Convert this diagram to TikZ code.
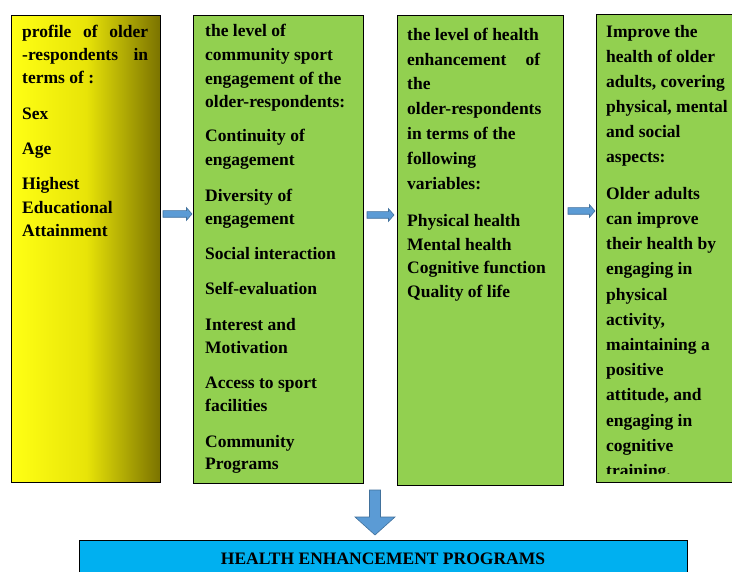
\documentclass[tikz,border=0pt]{standalone}
\usepackage{fontspec}
\setmainfont{Liberation Serif}
\definecolor{boxgreen}{HTML}{92D050}
\definecolor{boxblue}{HTML}{00B0F0}
\definecolor{arrowfill}{HTML}{5B9BD5}
\definecolor{arrowline}{HTML}{41719C}
\definecolor{yelL}{RGB}{255,255,20}
\definecolor{yelM}{RGB}{232,228,8}
\definecolor{yelR}{RGB}{122,114,0}
\begin{document}
\begin{tikzpicture}[x=1pt,y=-1pt,
  txt/.style={font=\fontsize{17.5}{21}\selectfont\bfseries, inner sep=0pt, anchor=base west, text=black},
  box/.style={draw=black, line width=1.3pt, inner sep=0pt, anchor=north west},
  greenbox/.style={box, fill=boxgreen},
  blockarr/.style={draw=arrowline, fill=arrowfill, line width=0.6pt, line join=miter}]
\clip (0,0) rectangle (732,572);
\fill[white] (0,0) rectangle (732,572);
% boxes
\node[box, left color=yelL, right color=yelR, middle color=yelM, minimum width=149pt, minimum height=467pt] (b1) at (11,15) {};
\node[greenbox, minimum width=170pt, minimum height=468pt] (b2) at (193,15) {};
\node[greenbox, minimum width=166pt, minimum height=470pt] (b3) at (397,15) {};
\node[greenbox, minimum width=190pt, minimum height=467.5pt] (b4) at (596,14) {};
\node[box, fill=boxblue, minimum width=608pt, minimum height=60pt] (b5) at (79,540) {};
% box 1 text
\foreach \t/\yy [count=\i] in {{\hbox to 126pt{profile\hfill of\hfill older}}/37.7,{\hbox to 126pt{-respondents\hfill in}}/61,{terms of :}/84,Sex/120,Age/155,Highest/190,Educational/213.3,Attainment/236.7}
  \node[txt] (ta\i) at (22,\yy) {\t};
% box 2 text
\foreach \t/\yy [count=\i] in {the level of/37,community sport/61,engagement of the/85,older-respondents:/108,Continuity of/142,engagement/166,Diversity of/201.5,engagement/225,Social interaction/260,Self-evaluation/295,Interest and/331,Motivation/354,Access to sport/389,facilities/412,Community/447,Programs/470}
  \node[txt] (tb\i) at (205,\yy) {\t};
% box 3 text
\foreach \t/\yy [count=\i] in {the level of health/40.5,{\hbox to 133pt{enhancement\hfill of}}/65.5,the/90,older-respondents/115,in terms of the/140,following/165,variables:/190,Physical health/226.5,Mental health/250.5,Cognitive function/274,Quality of life/297.5}
  \node[txt] (tc\i) at (407,\yy) {\t};
% box 4 text
\begin{scope}
\clip (597,15) rectangle (740,473);
\foreach \t/\yy [count=\i] in {Improve the/37.5,health of older/62.5,{adults, covering}/87.5,{physical, mental}/112.5,and social/137.5,aspects:/162.5,Older adults/199.3,can improve/224.5,their health by/249.7,engaging in/274.9,physical/300.1,{activity,}/325.3,maintaining a/350.5,positive/375.7,{attitude, and}/400.9,engaging in/426.1,cognitive/451.3,training./476.5}
  \node[txt] (td\i) at (606,\yy) {\t};
\end{scope}
% bottom text
\node[txt, anchor=base] (te) at (383,564) {HEALTH ENHANCEMENT PROGRAMS};
% block arrows
\coordinate (a1s) at (163,214);
\coordinate (a2s) at (367,215);
\coordinate (a3s) at (568,211);
\foreach \c/\len in {a1s/29,a2s/27,a3s/27}
  \draw[blockarr] (\c) ++(0,-3.3) -- ++(\len-5.5,0) -- ++(0,-3) -- ++(5.5,6.3) -- ++(-5.5,6.3) -- ++(0,-3) -- ++(-\len+5.5,0) -- cycle;
\coordinate (a4s) at (375,490);
\draw[blockarr] (a4s) ++(-5.5,0) -- ++(0,27) -- ++(-14.5,0) -- ++(20,18) -- ++(20,-18) -- ++(-14.5,0) -- ++(0,-27) -- cycle;
\end{tikzpicture}
\end{document}
